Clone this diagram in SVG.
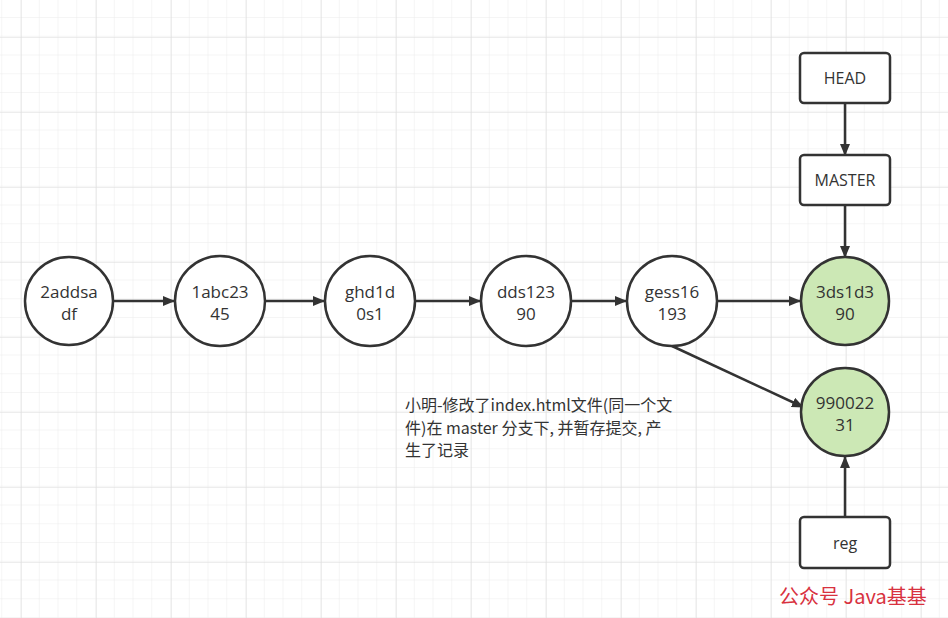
<svg xmlns="http://www.w3.org/2000/svg" width="948" height="618" viewBox="0 0 948 618">
<defs>
<pattern id="minor" x="2.25" y="-0.75" width="18.75" height="18.75" patternUnits="userSpaceOnUse">
<path d="M18.75 0V18.75M0 18.75H18.75" fill="none" stroke="#ececec" stroke-width="1"/>
</pattern>
<pattern id="major" x="21" y="37" width="75" height="75" patternUnits="userSpaceOnUse">
<path d="M0 0V75M0 0H75" fill="none" stroke="#dcdcdc" stroke-width="1"/>
</pattern>
<marker id="arr" viewBox="0 0 12 10" refX="11" refY="5" markerWidth="12" markerHeight="10" markerUnits="userSpaceOnUse" orient="auto">
<path d="M0 0L12 5L0 10Z" fill="#333"/>
</marker>
</defs>
<style>
.n{fill:#fff;stroke:#333;stroke-width:2.5}
.g{fill:#cce8b5;stroke:#333;stroke-width:2.5}
.b{fill:#fff;stroke:#333;stroke-width:2.5}
.t{font-family:"Open Sans","Noto Sans",sans-serif;font-size:17px;fill:#333;text-anchor:middle}
.bt{font-size:16px}
.c{fill:none;stroke:#333;stroke-width:2.5}
.note{font-family:"Noto Sans CJK SC","Open Sans",sans-serif;font-size:16px;fill:#333}
.wm{font-family:"Noto Sans CJK SC",sans-serif;font-size:20px;fill:#d8323f}
</style>
<rect width="948" height="618" fill="#fff"/>
<rect width="948" height="618" fill="url(#minor)"/>
<rect width="948" height="618" fill="url(#major)"/>
<g id="connectors">
<line class="c" x1="114" y1="301" x2="174" y2="301" marker-end="url(#arr)"/>
<line class="c" x1="265" y1="301" x2="324" y2="301" marker-end="url(#arr)"/>
<line class="c" x1="415" y1="301" x2="480" y2="301" marker-end="url(#arr)"/>
<line class="c" x1="571" y1="301" x2="626" y2="301" marker-end="url(#arr)"/>
<line class="c" x1="717" y1="301" x2="800" y2="301" marker-end="url(#arr)"/>
<line class="c" x1="672" y1="346" x2="803" y2="407" marker-end="url(#arr)"/>
<line class="c" x1="845" y1="103" x2="845" y2="155" marker-end="url(#arr)"/>
<line class="c" x1="845" y1="205" x2="845" y2="257" marker-end="url(#arr)"/>
<line class="c" x1="845" y1="517" x2="845" y2="457" marker-end="url(#arr)"/>
</g>
<g id="n1"><circle class="n" cx="69" cy="301" r="44"/><text class="t" x="69" y="298">2addsa</text><text class="t" x="69" y="320">df</text></g>
<g id="n2"><circle class="n" cx="220" cy="301" r="45"/><text class="t" x="220" y="298">1abc23</text><text class="t" x="220" y="320">45</text></g>
<g id="n3"><circle class="n" cx="370" cy="301" r="45"/><text class="t" x="370" y="298">ghd1d</text><text class="t" x="370" y="320">0s1</text></g>
<g id="n4"><circle class="n" cx="526" cy="301" r="45"/><text class="t" x="526" y="298">dds123</text><text class="t" x="526" y="320">90</text></g>
<g id="n5"><circle class="n" cx="672" cy="301" r="45"/><text class="t" x="672" y="298">gess16</text><text class="t" x="672" y="320">193</text></g>
<g id="n6"><circle class="g" cx="845" cy="301" r="44"/><text class="t" x="845" y="298">3ds1d3</text><text class="t" x="845" y="320">90</text></g>
<g id="n7"><circle class="g" cx="845" cy="412" r="44"/><text class="t" x="845" y="409">990022</text><text class="t" x="845" y="431">31</text></g>
<g id="head"><rect class="b" x="800" y="53" width="90" height="50" rx="4"/><text class="t bt" x="845" y="84">HEAD</text></g>
<g id="master"><rect class="b" x="800" y="155" width="90" height="50" rx="4"/><text class="t bt" x="845" y="186">MASTER</text></g>
<g id="reg"><rect class="b" x="800" y="517" width="90" height="51" rx="4"/><text class="t bt" x="845" y="549">reg</text></g>
<g id="note">
<text class="note" x="405" y="411">小明-修改了index.html文件(同一个文</text>
<text class="note" x="405" y="434">件)在 master 分支下, 并暂存提交, 产</text>
<text class="note" x="405" y="456">生了记录</text>
</g>
<text class="wm" x="779" y="604">公众号  Java基基</text>
</svg>
